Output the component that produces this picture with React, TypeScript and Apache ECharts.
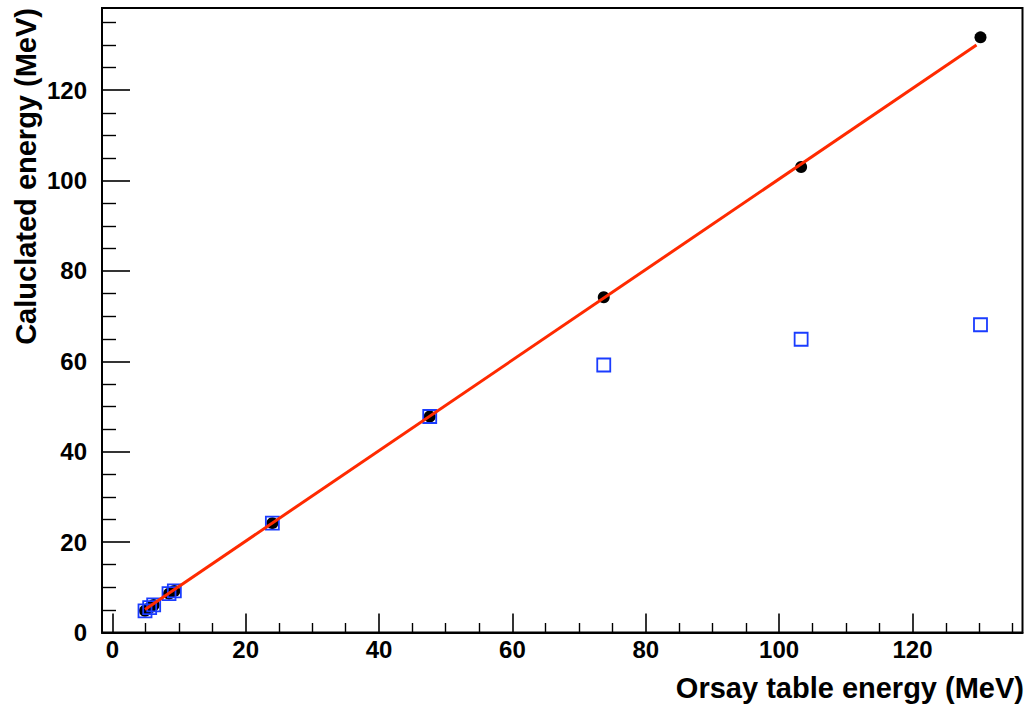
import React, { useEffect, useRef } from "react";
import * as echarts from "echarts";

// Orsay table energy vs. calculated energy (MeV)
const orsayEnergy = [4.9, 5.6, 6.2, 8.5, 9.3, 24.0, 47.6, 73.7, 103.3, 130.2];
const calcEnergyFull = [4.8, 5.5, 6.1, 8.6, 9.2, 24.2, 47.8, 74.2, 103.0, 131.7];
const calcEnergyOpen = [4.8, 5.5, 6.1, 8.6, 9.2, 24.2, 47.8, 59.2, 64.9, 68.1];

// Linear fit drawn across the data range
const fitX = [4.9, 129.6];
const fitY = [5.1, 130.0];

const xMajorTicks = [0, 20, 40, 60, 80, 100, 120];
const xMinorTicks = [5, 10, 15, 25, 30, 35, 45, 50, 55, 65, 70, 75, 85, 90, 95, 105, 110, 115, 125, 130, 135];
const yMajorTicks = [0, 20, 40, 60, 80, 100, 120];
const yMinorTicks = [5, 10, 15, 25, 30, 35, 45, 50, 55, 65, 70, 75, 85, 90, 95, 105, 110, 115, 125, 130, 135];

const X_MIN = -1.55;
const X_MAX = 136.5;
const Y_MIN = 0;
const Y_MAX = 138.2;

const FONT = "'Liberation Sans', Arial, Helvetica, sans-serif";

export default function App() {
  const ref = useRef<HTMLDivElement>(null);

  useEffect(() => {
    if (!ref.current) return;
    const chart = echarts.init(ref.current, undefined, { renderer: "svg" });

    const pts = (ys: number[]) => orsayEnergy.map((x, i) => [x, ys[i]]);
    const fitLine = fitX.map((x, i) => [x, fitY[i]]);

    const majorX = {
      type: "value",
      min: X_MIN,
      max: X_MAX,
      position: "bottom",
      axisLine: { show: true, onZero: false, lineStyle: { color: "#000", width: 2 } },
      axisTick: {
        show: true,
        inside: true,
        length: 19,
        customValues: xMajorTicks,
        lineStyle: { color: "#000", width: 1.6 },
      },
      axisLabel: {
        show: true,
        customValues: xMajorTicks,
        margin: 5,
        color: "#000",
        fontSize: 24,
        fontWeight: "bold",
        fontFamily: FONT,
      },
      splitLine: { show: false },
    };
    const minorX = {
      type: "value",
      min: X_MIN,
      max: X_MAX,
      position: "bottom",
      axisLine: { show: false, onZero: false },
      axisTick: {
        show: true,
        inside: true,
        length: 9.5,
        customValues: xMinorTicks,
        lineStyle: { color: "#000", width: 1.4 },
      },
      axisLabel: { show: false },
      splitLine: { show: false },
    };
    const majorY = {
      type: "value",
      min: Y_MIN,
      max: Y_MAX,
      position: "left",
      axisLine: { show: true, onZero: false, lineStyle: { color: "#000", width: 2 } },
      axisTick: {
        show: true,
        inside: true,
        length: 28,
        customValues: yMajorTicks,
        lineStyle: { color: "#000", width: 1.6 },
      },
      axisLabel: {
        show: true,
        customValues: yMajorTicks,
        margin: 15,
        color: "#000",
        fontSize: 24,
        fontWeight: "bold",
        fontFamily: FONT,
      },
      splitLine: { show: false },
    };
    const minorY = {
      type: "value",
      min: Y_MIN,
      max: Y_MAX,
      position: "left",
      axisLine: { show: false, onZero: false },
      axisTick: {
        show: true,
        inside: true,
        length: 14,
        customValues: yMinorTicks,
        lineStyle: { color: "#000", width: 1.4 },
      },
      axisLabel: { show: false },
      splitLine: { show: false },
    };

    chart.setOption({
      animation: false,
      backgroundColor: "#fff",
      grid: {
        left: 102,
        top: 8,
        right: 5.5,
        bottom: 76.5,
        show: true,
        borderColor: "#000",
        borderWidth: 2,
        backgroundColor: "transparent",
      },
      xAxis: [majorX, minorX],
      yAxis: [majorY, minorY],
      graphic: [
        {
          type: "text",
          x: 1024,
          y: 702,
          style: {
            text: "Orsay table energy (MeV)",
            textAlign: "right",
            textVerticalAlign: "bottom",
            fontSize: 29,
            fontWeight: "bold",
            fontFamily: FONT,
            fill: "#000",
          },
        },
        {
          type: "text",
          x: 26,
          y: 8,
          rotation: Math.PI / 2,
          style: {
            text: "Caluclated energy (MeV)",
            textAlign: "right",
            textVerticalAlign: "middle",
            fontSize: 29,
            fontWeight: "bold",
            fontFamily: FONT,
            fill: "#000",
          },
        },
      ],
      series: [
        {
          name: "calculated",
          type: "scatter",
          xAxisIndex: 0,
          yAxisIndex: 0,
          data: pts(calcEnergyFull),
          symbol: "circle",
          symbolSize: 12,
          itemStyle: { color: "#000", opacity: 1 },
          z: 2,
        },
        {
          name: "calculated (open)",
          type: "scatter",
          xAxisIndex: 0,
          yAxisIndex: 0,
          data: pts(calcEnergyOpen),
          symbol: "rect",
          symbolSize: 13,
          itemStyle: { color: "rgba(0,0,0,0)", borderColor: "#1a3cff", borderWidth: 1.8, opacity: 1 },
          z: 3,
        },
        {
          name: "fit",
          type: "line",
          xAxisIndex: 0,
          yAxisIndex: 0,
          data: fitLine,
          symbol: "none",
          lineStyle: { color: "#ff2a00", width: 3 },
          z: 4,
        },
      ],
    });

    return () => chart.dispose();
  }, []);

  return (
    <div
      ref={ref}
      style={{ position: "fixed", left: 0, top: 0, width: 1028, height: 709, background: "#fff" }}
    />
  );
}
